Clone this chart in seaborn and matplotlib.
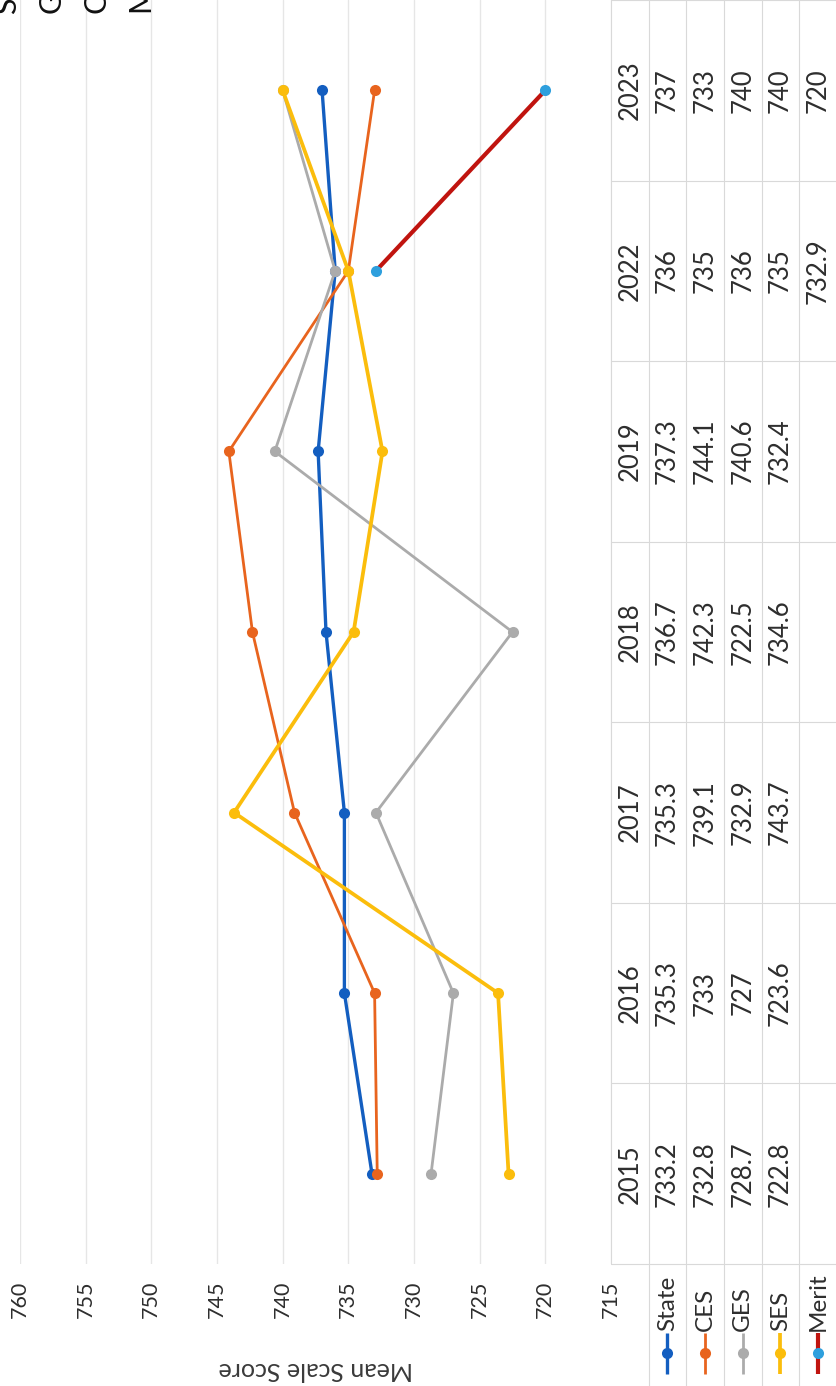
import matplotlib
matplotlib.use('Agg')
import matplotlib.pyplot as plt
import seaborn as sns
import numpy as np
import pandas as pd

years = ['2015', '2016', '2017', '2018', '2019', '2022', '2023']
series_names = ['State', 'CES', 'GES', 'SES', 'Merit']
state = [733.2, 735.3, 735.3, 736.7, 737.3, 736, 737]
ces = [732.8, 733, 739.1, 742.3, 744.1, 735, 733]
ges = [728.7, 727, 732.9, 722.5, 740.6, 736, 740]
ses = [722.8, 723.6, 743.7, 734.6, 732.4, 735, 740]
merit = [np.nan, np.nan, np.nan, np.nan, np.nan, 732.9, 720]
score_ticks = [760, 755, 750, 745, 740, 735, 730, 725, 720, 715]
title_lines = ['Smarter Balanced Assessment', 'Grade 8 Mathematics',
               'CES, GES, SES and State', 'Mean Scale Score 2015-2023']

values = {'State': state, 'CES': ces, 'GES': ges, 'SES': ses, 'Merit': merit}
line_colors = {'State': '#135EC0', 'CES': '#E8641E', 'GES': '#ABABAB',
               'SES': '#FBBD0C', 'Merit': '#C0140F'}
marker_colors = {'State': '#135EC0', 'CES': '#E8641E', 'GES': '#ABABAB',
                 'SES': '#FBBD0C', 'Merit': '#2E9FDD'}
line_widths = {'State': 2.4, 'CES': 2.0, 'GES': 2.0, 'SES': 2.7, 'Merit': 3.0}

sns.set_theme(style='white')
plt.rcParams['font.family'] = ['Lato', 'DejaVu Sans']

W, H = 837, 1386
fig = plt.figure(figsize=(W / 100, H / 100), dpi=100)

# plot area: 760 on the left, 715 on the right, years going up
x_left, x_right, y_bot = 20, 611, 1264
ax = fig.add_axes([x_left / W, 1 - y_bot / H, (x_right - x_left) / W, y_bot / H])
pos = np.arange(len(years))

for name in series_names:
    df = pd.DataFrame({'score': values[name], 'pos': pos}).dropna()
    sns.lineplot(data=df, x='score', y='pos', ax=ax, sort=False, estimator=None,
                 color=line_colors[name], lw=line_widths[name], marker='o',
                 markersize=8, markerfacecolor=marker_colors[name],
                 markeredgecolor=marker_colors[name], markeredgewidth=0)

ax.set_xlim(760, 715)
ax.set_ylim(-0.5, len(years) - 0.5)
ax.set_xticks(score_ticks)
ax.set_xticklabels([str(t) for t in score_ticks])
ax.set_yticks([])
ax.set_ylabel('')
ax.tick_params(axis='x', labelrotation=90, length=0, pad=12, labelsize=15.5,
               labelcolor='#2e2e2e')
ax.grid(axis='x', color='#e6e6e6', lw=1)
ax.grid(axis='y', visible=False)
for s in ax.spines.values():
    s.set_visible(False)
ax.set_xlabel('Mean Scale Score', rotation=180, fontsize=18, color='#3a3a3a',
              va='center')
ax.xaxis.set_label_coords(0.5, -(1369 - y_bot) / y_bot)

# data table on the right, same vertical scale as the plot
ax_t = fig.add_axes([x_right / W, 0, (W - x_right) / W, 1])
units_per_px = len(years) / y_bot
ymin = -0.5 - (H - y_bot) * units_per_px
ax_t.set_xlim(0, 6)
ax_t.set_ylim(ymin, len(years) - 0.5)
ax_t.axis('off')

grid_c = '#d9d9d9'
for k in range(len(years) + 1):
    ax_t.plot([0, 6], [k - 0.5, k - 0.5], color=grid_c, lw=0.8)
for c in range(7):
    ax_t.plot([c, c], [-0.5, len(years) - 0.5], color=grid_c, lw=0.8)
    if c >= 1:
        ax_t.plot([c, c], [ymin, -0.5], color=grid_c, lw=0.8)

for i, yr in enumerate(years):
    ax_t.text(0.5, i, yr, rotation=90, ha='center', va='center', fontsize=18.5,
              color='#2e2e2e')
    for j, name in enumerate(series_names):
        v = values[name][i]
        if not np.isnan(v):
            ax_t.text(j + 1.5, i, f'{v:g}', rotation=90, ha='center', va='center',
                      fontsize=18.5, color='#2e2e2e')

# legend keys in the row under the table
def px_to_u(p):
    return -0.5 - (p - y_bot) * units_per_px

for j, name in enumerate(series_names):
    cx = j + 1.5
    ax_t.plot([cx, cx], [px_to_u(1333), px_to_u(1374)], color=line_colors[name],
              lw=line_widths[name], solid_capstyle='butt')
    ax_t.plot([cx], [px_to_u(1353)], 'o', color=marker_colors[name], markersize=8,
              markeredgewidth=0)
    ax_t.text(cx, px_to_u(1331), name, rotation=90, ha='center', va='bottom',
              fontsize=17.5, color='#2e2e2e')

# title, cut off by the top edge like the reference
for k, line in enumerate(title_lines):
    fig.text((8 + 45 * k) / W, 1 - 14 / H, line, rotation=90, ha='center', va='bottom',
             fontsize=22, color='#111111')

fig.savefig('out.png', dpi=100)
